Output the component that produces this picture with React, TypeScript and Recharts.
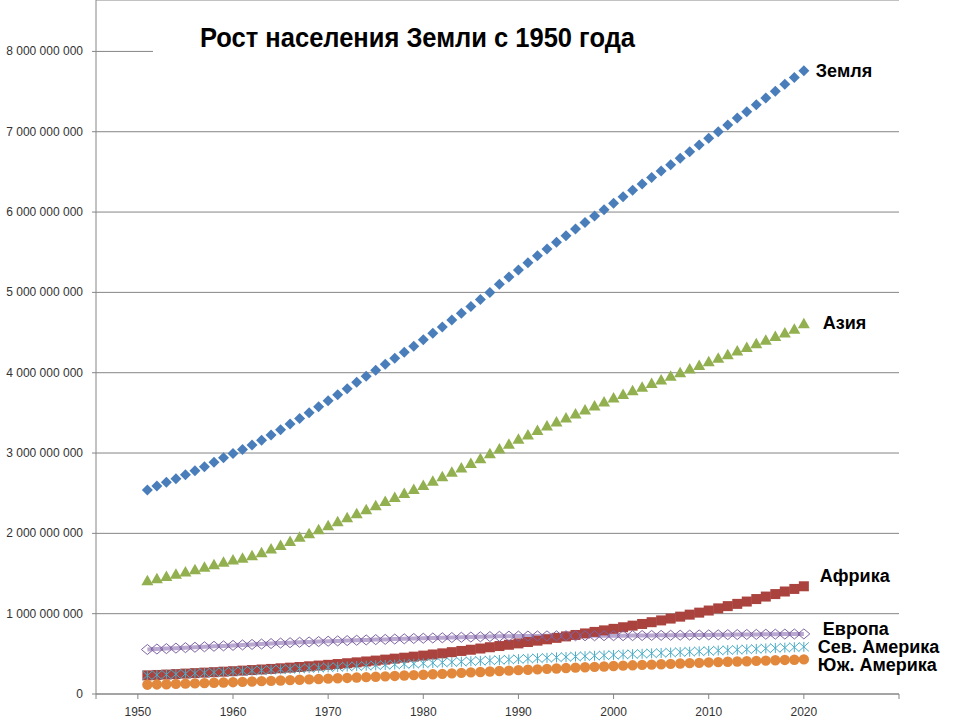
import React from "react";
import { LineChart, Line, XAxis, YAxis, CartesianGrid, LabelList } from "recharts";

// годы и численность населения, млн человек
const years = [
  1951, 1952, 1953, 1954, 1955, 1956, 1957, 1958, 1959, 1960,
  1961, 1962, 1963, 1964, 1965, 1966, 1967, 1968, 1969, 1970,
  1971, 1972, 1973, 1974, 1975, 1976, 1977, 1978, 1979, 1980,
  1981, 1982, 1983, 1984, 1985, 1986, 1987, 1988, 1989, 1990,
  1991, 1992, 1993, 1994, 1995, 1996, 1997, 1998, 1999, 2000,
  2001, 2002, 2003, 2004, 2005, 2006, 2007, 2008, 2009, 2010,
  2011, 2012, 2013, 2014, 2015, 2016, 2017, 2018, 2019, 2020,
];

const earth = [
  2540, 2590, 2635, 2680, 2730, 2780, 2830, 2885, 2940, 2995,
  3045, 3100, 3160, 3225, 3290, 3360, 3430, 3500, 3575, 3650,
  3725, 3800, 3880, 3955, 4030, 4105, 4180, 4255, 4330, 4410,
  4490, 4570, 4655, 4740, 4825, 4910, 5000, 5100, 5190, 5280,
  5370, 5455, 5540, 5625, 5705, 5790, 5870, 5950, 6030, 6110,
  6190, 6270, 6350, 6430, 6510, 6590, 6670, 6750, 6835, 6920,
  7000, 7085, 7170, 7250, 7335, 7420, 7505, 7590, 7675, 7760,
];

const asia = [
  1410, 1435, 1462, 1490, 1518, 1548, 1578, 1610, 1640, 1668,
  1690, 1720, 1760, 1805, 1850, 1900, 1950, 1995, 2045, 2095,
  2145, 2195, 2245, 2295, 2345, 2395, 2445, 2495, 2545, 2595,
  2650, 2705, 2760, 2815, 2870, 2930, 2990, 3050, 3110, 3170,
  3225, 3280, 3335, 3385, 3435, 3485, 3535, 3585, 3635, 3685,
  3730, 3775, 3820, 3865, 3910, 3955, 4000, 4045, 4090, 4135,
  4180, 4225, 4270, 4315, 4360, 4405, 4450, 4495, 4540, 4610,
];

const africa = [
  232, 237, 242, 248, 254, 260, 266, 272, 278, 284,
  291, 298, 305, 312, 320, 328, 336, 345, 354, 363,
  373, 383, 394, 405, 416, 428, 440, 452, 465, 478,
  492, 506, 521, 536, 551, 566, 582, 597, 613, 630,
  647, 664, 681, 699, 717, 735, 754, 773, 792, 811,
  831, 851, 872, 894, 916, 939, 963, 988, 1013, 1039,
  1066, 1094, 1122, 1151, 1182, 1213, 1244, 1276, 1308, 1341,
];

const europe = [
  554, 560, 565, 571, 577, 582, 588, 594, 599, 605,
  611, 617, 622, 628, 634, 639, 644, 648, 653, 657,
  661, 665, 669, 673, 677, 680, 684, 687, 691, 694,
  697, 700, 703, 706, 709, 712, 715, 718, 720, 721,
  722, 723, 724, 724, 725, 725, 725, 725, 726, 726,
  726, 727, 728, 729, 730, 731, 732, 733, 735, 736,
  737, 739, 740, 741, 742, 744, 745, 746, 747, 748,
];

const northAmerica = [
  232, 237, 242, 247, 252, 258, 264, 269, 275, 280,
  286, 291, 296, 302, 307, 312, 317, 322, 327, 332,
  337, 342, 347, 352, 357, 362, 367, 372, 377, 382,
  387, 392, 397, 402, 408, 413, 418, 423, 429, 434,
  440, 445, 450, 456, 461, 466, 471, 476, 481, 486,
  491, 496, 501, 506, 511, 516, 521, 526, 531, 536,
  541, 546, 551, 556, 561, 567, 572, 577, 582, 587,
];

const southAmerica = [
  116, 119, 122, 126, 129, 132, 136, 140, 143, 147,
  151, 155, 160, 164, 168, 173, 177, 182, 186, 191,
  196, 200, 205, 210, 215, 220, 225, 230, 235, 240,
  246, 251, 257, 263, 269, 274, 280, 286, 291, 297,
  302, 307, 313, 318, 323, 328, 333, 338, 343, 348,
  353, 357, 362, 366, 371, 375, 380, 384, 388, 393,
  397, 401, 405, 408, 412, 416, 420, 424, 427, 431,
];

const yTicks = [0, 1e9, 2e9, 3e9, 4e9, 5e9, 6e9, 7e9, 8e9];
const xTicks = [1945.6, 1950, 1960, 1970, 1980, 1990, 2000, 2010, 2020, 2030];

const data = years.map((year, i) => ({
  year,
  earth: earth[i] * 1e6,
  asia: asia[i] * 1e6,
  africa: africa[i] * 1e6,
  europe: europe[i] * 1e6,
  northAmerica: northAmerica[i] * 1e6,
  southAmerica: southAmerica[i] * 1e6,
}));

const GRAY = "#868686";
const FONT = "Liberation Sans, Arial, sans-serif";

const fmtY = (v: number) => String(v).replace(/\B(?=(\d{3})+(?!\d))/g, " ");
const fmtX = (v: number) => (v >= 1950 && v <= 2020 ? String(v) : "");

const YTick = (p: any) => (
  <text x={p.x} y={p.y} dy={4} textAnchor="end" fontFamily={FONT} fontSize={12} fill="#333">
    {fmtY(p.payload.value)}
  </text>
);

const diamond = (color: string) => (p: any) => {
  const { cx, cy, index } = p;
  return (
    <path
      key={"d" + index}
      d={`M${cx},${cy - 5.5}L${cx + 5.5},${cy}L${cx},${cy + 5.5}L${cx - 5.5},${cy}Z`}
      fill={color}
    />
  );
};

const hollowDiamond = (color: string) => (p: any) => {
  const { cx, cy, index } = p;
  return (
    <path
      key={"h" + index}
      d={`M${cx},${cy - 5}L${cx + 6},${cy}L${cx},${cy + 5}L${cx - 6},${cy}Z`}
      fill="none"
      stroke={color}
      strokeWidth={1}
    />
  );
};

const triangle = (color: string) => (p: any) => {
  const { cx, cy, index } = p;
  return (
    <path
      key={"t" + index}
      d={`M${cx},${cy - 6}L${cx + 6},${cy + 4.5}L${cx - 6},${cy + 4.5}Z`}
      fill={color}
    />
  );
};

const square = (color: string) => (p: any) => {
  const { cx, cy, index } = p;
  return <rect key={"s" + index} x={cx - 5} y={cy - 5} width={10} height={10} fill={color} />;
};

const circle = (color: string) => (p: any) => {
  const { cx, cy, index } = p;
  return <circle key={"c" + index} cx={cx} cy={cy} r={5.2} fill={color} />;
};

const star = (color: string) => (p: any) => {
  const { cx, cy, index } = p;
  return (
    <path
      key={"a" + index}
      d={`M${cx - 5},${cy - 4.5}L${cx + 5},${cy + 4.5}M${cx - 5},${cy + 4.5}L${cx + 5},${cy - 4.5}M${cx},${cy - 5}L${cx},${cy + 5}`}
      stroke={color}
      strokeWidth={1}
      fill="none"
    />
  );
};

// подпись серии справа от последней точки
const endLabel = (text: string, dx: number, dy: number) => (p: any) => {
  if (p.index !== years.length - 1) return null;
  return (
    <text x={p.x + dx} y={p.y + dy} fontFamily={FONT} fontWeight="bold" fontSize={18} fill="#000">
      {text}
    </text>
  );
};

export default function App() {
  return (
    <div style={{ position: "relative", width: 965, height: 726 }}>
      <style>{"body{margin:0}"}</style>
      <LineChart
        width={965}
        height={726}
        data={data}
        margin={{ top: 0, right: 66, bottom: 0, left: 6 }}
        style={{ fontFamily: FONT }}
      >
        <CartesianGrid horizontal vertical={false} stroke={GRAY} strokeWidth={1} />
        <XAxis
          dataKey="year"
          type="number"
          domain={[1945.6, 2030]}
          ticks={xTicks}
          tickFormatter={fmtX}
          height={32}
          axisLine={{ stroke: GRAY }}
          tickLine={{ stroke: GRAY }}
          tickSize={5}
          tickMargin={8}
          tick={{ fill: "#333", fontSize: 12 }}
          interval={0}
        />
        <YAxis
          type="number"
          domain={[0, 8.64e9]}
          ticks={yTicks}
          width={90}
          axisLine={{ stroke: GRAY }}
          tickLine={{ stroke: GRAY }}
          tickSize={4}
          tickMargin={9}
          tick={YTick}
          interval={0}
        />
        <Line dataKey="earth" stroke="none" dot={diamond("#4A7EBB")} isAnimationActive={false}>
          <LabelList content={endLabel("Земля", 12, 6)} />
        </Line>
        <Line dataKey="asia" stroke="none" dot={triangle("#92B04F")} isAnimationActive={false}>
          <LabelList content={endLabel("Азия", 19, 5)} />
        </Line>
        <Line dataKey="africa" stroke="none" dot={square("#AA423E")} isAnimationActive={false}>
          <LabelList content={endLabel("Африка", 16, -4)} />
        </Line>
        <Line dataKey="northAmerica" stroke="none" dot={star("#4BACC6")} isAnimationActive={false}>
          <LabelList content={endLabel("Сев. Америка", 14, 6)} />
        </Line>
        <Line dataKey="southAmerica" stroke="none" dot={circle("#E2883D")} isAnimationActive={false}>
          <LabelList content={endLabel("Юж. Америка", 14, 12)} />
        </Line>
        <Line
          dataKey="europe"
          stroke="#B9A8D0"
          strokeWidth={4}
          dot={hollowDiamond("#8064A2")}
          isAnimationActive={false}
        >
          <LabelList content={endLabel("Европа", 19, 1)} />
        </Line>
      </LineChart>
      <svg
        width={965}
        height={726}
        style={{ position: "absolute", left: 0, top: 0, pointerEvents: "none" }}
      >
        <rect x={153} y={14} width={760} height={43} fill="#fff" />
        <text
          x={200}
          y={47}
          fontFamily={FONT}
          fontWeight="bold"
          fontSize={28}
          textLength={435}
          lengthAdjust="spacingAndGlyphs"
          fill="#000"
        >
          Рост населения Земли с 1950 года
        </text>
      </svg>
    </div>
  );
}
